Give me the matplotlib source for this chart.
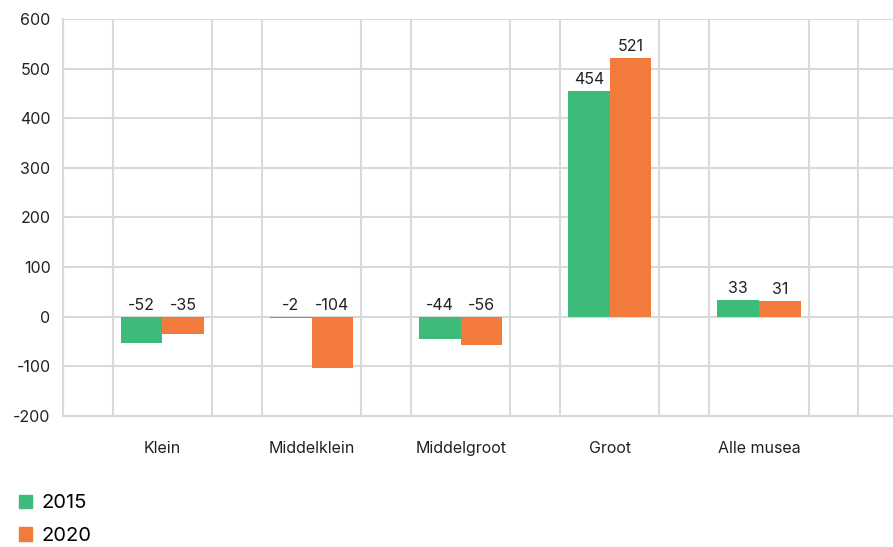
import numpy as np
import matplotlib.pyplot as plt
from matplotlib.ticker import MultipleLocator
from matplotlib.patches import Patch

plt.rcParams['font.family'] = ['Inter', 'DejaVu Sans']
plt.rcParams['axes.unicode_minus'] = False

# Data
categories = ["Klein", "Middelklein", "Middelgroot", "Groot", "Alle musea"]
values_2015 = [-52, -2, -44, 454, 33]
values_2020 = [-35, -104, -56, 521, 31]
series_names = ["2015", "2020"]

green = '#3CBB7B'
orange = '#F27B3C'
grid_col = '#D9D9D9'

fig = plt.figure(figsize=(8.93, 5.47), dpi=100)
ax = fig.add_axes([0.0706, 0.2395, 0.9294, 0.7258])

x = np.arange(len(categories))
w = 0.28
b1 = ax.bar(x - w / 2, values_2015, w, color=green, zorder=3)
b2 = ax.bar(x + w / 2, values_2020, w, color=orange, zorder=3)

# Value labels
for bars, vals in [(b1, values_2015), (b2, values_2020)]:
    for bar, v in zip(bars, vals):
        y = max(v, 0)
        ax.annotate(str(v), (bar.get_x() + bar.get_width() / 2, y),
                    xytext=(0, 3), textcoords='offset points',
                    ha='center', va='bottom', fontsize=11.5, color='#222222')

# Axes and grid
ax.set_ylim(-200, 600)
ax.set_yticks(np.arange(-200, 601, 100))
ax.set_xlim(-2 / 3, 4.9)
ax.set_xticks(x)
ax.set_xticklabels(categories)
ax.xaxis.set_minor_locator(MultipleLocator(1 / 3))
ax.grid(True, which='minor', axis='x', color=grid_col, linewidth=1.5, zorder=0)
ax.grid(True, which='major', axis='y', color=grid_col, linewidth=1.5, zorder=0)
ax.tick_params(axis='both', which='both', length=0, labelsize=11.5, colors='#222222')
ax.tick_params(axis='x', pad=18)
ax.tick_params(axis='y', pad=9)
for s in ['top', 'right']:
    ax.spines[s].set_visible(False)
for s in ['left', 'bottom']:
    ax.spines[s].set_color(grid_col)
    ax.spines[s].set_linewidth(1.5)

# Legend
handles = [Patch(color=green), Patch(color=orange)]
fig.legend(handles, series_names, loc='lower left', bbox_to_anchor=(0.005, -0.022),
           frameon=False, fontsize=14.5, handlelength=0.65, handleheight=0.65,
           handletextpad=0.5, labelspacing=0.72, borderpad=0.2)

fig.savefig('out.png', dpi=100)
